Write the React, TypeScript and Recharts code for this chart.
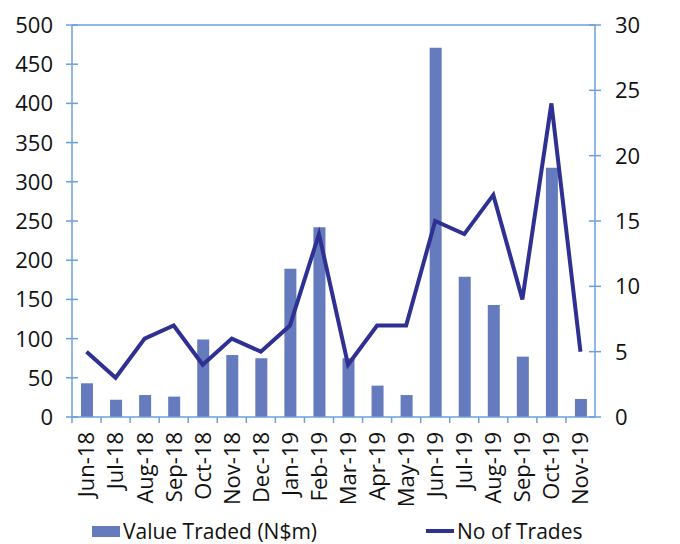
import React from "react";
import {
  ComposedChart,
  Bar,
  Line,
  XAxis,
  YAxis,
  Legend,
  ReferenceLine,
} from "recharts";

const months = [
  "Jun-18", "Jul-18", "Aug-18", "Sep-18", "Oct-18", "Nov-18", "Dec-18",
  "Jan-19", "Feb-19", "Mar-19", "Apr-19", "May-19", "Jun-19", "Jul-19",
  "Aug-19", "Sep-19", "Oct-19", "Nov-19",
];
const valueTraded = [43, 22, 28, 26, 99, 79, 75, 189, 242, 75, 40, 28, 471, 179, 143, 77, 318, 23];
const noOfTrades = [5, 3, 6, 7, 4, 6, 5, 7, 14, 4, 7, 7, 15, 14, 17, 9, 24, 5];
const leftTicks = [0, 50, 100, 150, 200, 250, 300, 350, 400, 450, 500];
const rightTicks = [0, 5, 10, 15, 20, 25, 30];

const data = months.map((m, i) => ({
  month: m,
  value: valueTraded[i],
  trades: noOfTrades[i],
}));

const AXIS = "#6c9fdc";
const BAR = "#657bbd";
const LINE = "#2e3192";
const FONT = "'Open Sans', sans-serif";
const W = 680;
const H = 544;
const PLOT_LEFT = 72;
const PLOT_RIGHT = 595;
const BAND = (PLOT_RIGHT - PLOT_LEFT) / months.length;

const LeftTick = (props: any) => {
  const { x, y, payload } = props;
  const ax = x + 19;
  return (
    <g>
      <line x1={ax - 6} x2={ax + 6} y1={y} y2={y} stroke={AXIS} strokeWidth={1.5} />
      <text x={x} y={y} dy="0.36em" textAnchor="end" fill="#111" fontSize={22} fontFamily={FONT}>
        {payload.value}
      </text>
    </g>
  );
};

const RightTick = (props: any) => {
  const { x, y, payload } = props;
  const ax = x - 20;
  return (
    <g>
      <line x1={ax - 6} x2={ax + 6} y1={y} y2={y} stroke={AXIS} strokeWidth={1.5} />
      <text x={x} y={y} dy="0.36em" textAnchor="start" fill="#111" fontSize={22} fontFamily={FONT}>
        {payload.value}
      </text>
    </g>
  );
};

const XTick = (props: any) => {
  const { x, y, payload } = props;
  const axisY = y - 15;
  const bx = x - BAND / 2;
  return (
    <g>
      <line x1={bx} x2={bx} y1={axisY} y2={axisY + 6} stroke={AXIS} strokeWidth={1.5} />
      <text
        x={x}
        y={y}
        dy="0.36em"
        textAnchor="end"
        fill="#111"
        fontSize={22}
        fontFamily={FONT}
        transform={`rotate(-90 ${x} ${y})`}
      >
        {payload.value}
      </text>
    </g>
  );
};

const LegendContent = (props: any) => {
  const payload = [...(props.payload || [])].sort(
    (a: any, b: any) => (a.type === "line" ? 1 : 0) - (b.type === "line" ? 1 : 0)
  );
  const lefts = [92, 426];
  return (
    <div style={{ position: "relative", width: W, height: 26, fontFamily: FONT, fontSize: 21, color: "#111" }}>
      {payload.map((p: any, i: number) => (
        <div
          key={p.value}
          style={{
            position: "absolute",
            left: lefts[i],
            top: 0,
            height: 26,
            display: "flex",
            alignItems: "center",
            whiteSpace: "nowrap",
          }}
        >
          {p.type === "line" ? (
            <span style={{ display: "inline-block", width: 28, height: 4, background: p.color, marginRight: 3 }} />
          ) : (
            <span style={{ display: "inline-block", width: 28, height: 11, background: p.color, marginRight: 3 }} />
          )}
          <span>{p.value}</span>
        </div>
      ))}
    </div>
  );
};

export default function App() {
  return (
    <div style={{ position: "absolute", left: 0, top: 0, width: W, height: H, background: "#fff" }}>
      <ComposedChart
        width={W}
        height={H}
        data={data}
        margin={{ top: 25, right: 0, left: 0, bottom: 0 }}
        barCategoryGap="60%"
      >
        <XAxis
          dataKey="month"
          interval={0}
          height={101}
          axisLine={{ stroke: AXIS, strokeWidth: 1.5 }}
          tickLine={false}
          tickSize={0}
          tickMargin={15}
          tick={<XTick />}
        />
        <YAxis
          yAxisId="left"
          orientation="left"
          width={72}
          domain={[0, 500]}
          ticks={leftTicks}
          interval={0}
          axisLine={{ stroke: AXIS, strokeWidth: 1.5 }}
          tickLine={false}
          tickSize={0}
          tickMargin={19}
          tick={<LeftTick />}
        />
        <YAxis
          yAxisId="right"
          orientation="right"
          width={85}
          domain={[0, 30]}
          ticks={rightTicks}
          interval={0}
          axisLine={{ stroke: AXIS, strokeWidth: 1.5 }}
          tickLine={false}
          tickSize={0}
          tickMargin={20}
          tick={<RightTick />}
        />
        <ReferenceLine yAxisId="left" y={500} stroke={AXIS} strokeWidth={1.5} />
        <Bar
          yAxisId="left"
          dataKey="value"
          name="Value Traded (N$m)"
          fill={BAR}
          barSize={12}
          isAnimationActive={false}
        />
        <Line
          yAxisId="right"
          dataKey="trades"
          name="No of Trades"
          type="linear"
          stroke={LINE}
          strokeWidth={4}
          dot={false}
          activeDot={false}
          legendType="line"
          isAnimationActive={false}
        />
        <Legend verticalAlign="bottom" height={26} content={<LegendContent />} />
      </ComposedChart>
    </div>
  );
}
